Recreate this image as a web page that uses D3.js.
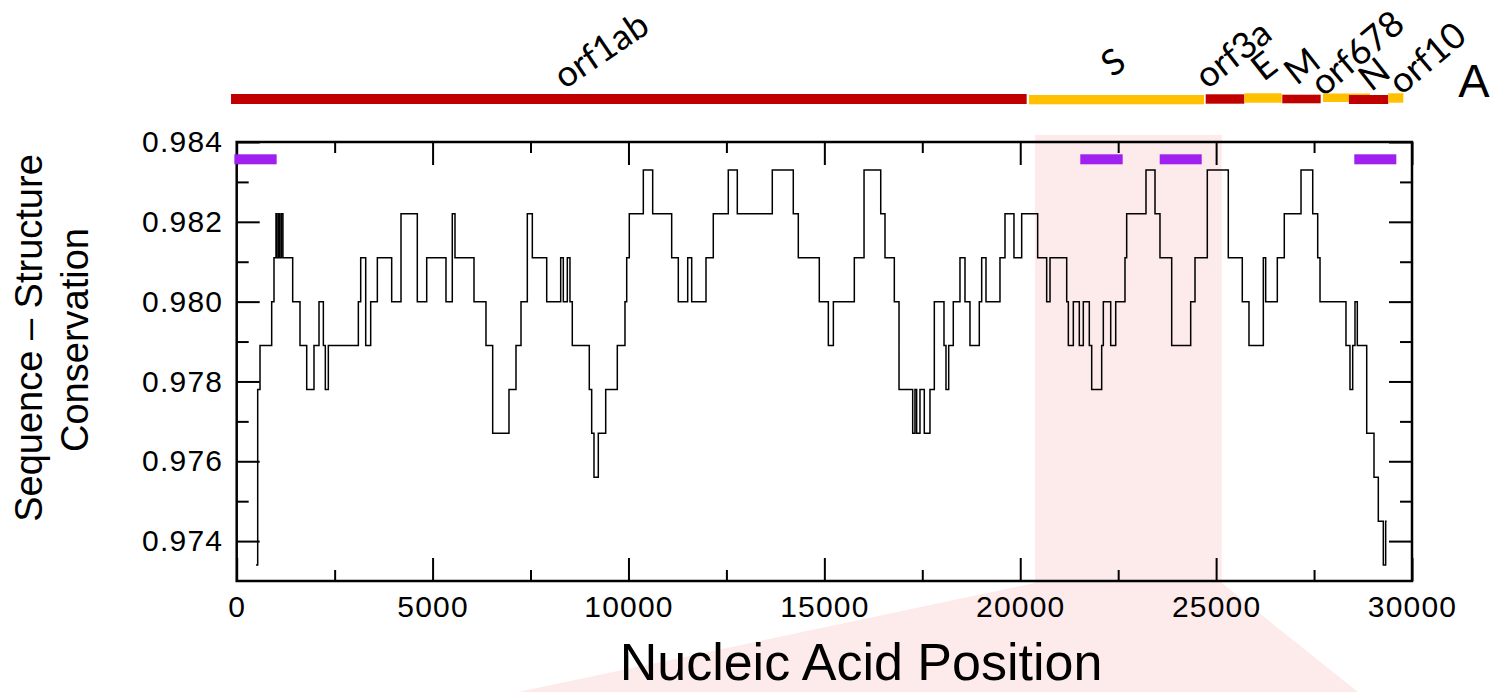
<!DOCTYPE html>
<html><head><meta charset="utf-8">
<script src="https://cdn.jsdelivr.net/npm/d3@7"></script>
<style>body{margin:0;background:#fff}svg{display:block}</style>
</head><body>
<svg id="c" width="1509" height="692"></svg>
<script>
// ---------- data ----------
const stepPositions = [493,536,595,893,952,1003,1030,1072,1098,1140,1180,1429,1616,1787,1973,2101,2212,2262,2339,3105,3165,3293,3420,3590,3956,4194,4610,4850,5342,5503,5572,6057,6363,6534,6950,7129,7257,7418,7546,7913,8270,8337,8439,8507,8566,9000,9061,9120,9230,9419,9715,9911,9955,10021,10379,10618,11103,11272,11512,11614,11979,12165,12548,12778,13671,14207,14335,14871,15102,15230,15765,16013,16439,16548,16786,16906,17255,17313,17356,17441,17551,17696,17807,18054,18105,18174,18291,18462,18590,18717,18955,19016,19126,19483,19611,19840,20037,20445,20675,20760,21186,21228,21355,21508,21610,21763,21824,22079,22121,22309,22437,22674,22717,23210,23440,23567,23866,24351,24461,24775,25311,25668,25839,26205,26265,26562,26740,27167,27466,27593,27652,28315,28417,28486,28545,28604,28844,29030,29140,29268,29328,29353];
const stepValues = [0.9734,0.9778,0.9789,0.9800,0.9811,0.9822,0.9811,0.9822,0.9811,0.9822,0.9811,0.9800,0.9789,0.9778,0.9789,0.9800,0.9789,0.9778,0.9789,0.9800,0.9811,0.9789,0.9800,0.9811,0.9800,0.9822,0.9800,0.9811,0.9800,0.9822,0.9811,0.9800,0.9789,0.9767,0.9778,0.9789,0.9800,0.9822,0.9811,0.9800,0.9811,0.9800,0.9811,0.9800,0.9789,0.9778,0.9767,0.9756,0.9767,0.9778,0.9789,0.9800,0.9811,0.9822,0.9833,0.9822,0.9811,0.9800,0.9811,0.9800,0.9811,0.9822,0.9833,0.9822,0.9833,0.9822,0.9811,0.9800,0.9789,0.9800,0.9811,0.9833,0.9822,0.9811,0.9800,0.9778,0.9767,0.9778,0.9767,0.9778,0.9767,0.9778,0.9800,0.9789,0.9778,0.9789,0.9800,0.9811,0.9800,0.9789,0.9800,0.9811,0.9800,0.9811,0.9822,0.9811,0.9822,0.9811,0.9800,0.9811,0.9800,0.9789,0.9800,0.9789,0.9800,0.9789,0.9778,0.9789,0.9800,0.9789,0.9800,0.9811,0.9822,0.9833,0.9822,0.9811,0.9789,0.9800,0.9811,0.9833,0.9811,0.9800,0.9789,0.9811,0.9800,0.9811,0.9822,0.9833,0.9822,0.9811,0.9800,0.9789,0.9778,0.9789,0.9800,0.9789,0.9767,0.9756,0.9745,0.9734,0.9745,0.9745];

const geneNames  = ["orf1ab","S","orf3a","E","M","orf678","N","orf10"];
const geneStarts = [-145,20222,24734,25720,26689,27728,28390,29395];
const geneEnds   = [20164,24690,25720,26674,27669,28927,29395,29778];
const geneLabelAt = [9299,22368,25431,26222,27192,28596,29030,30383];

const regionStarts = [-60,21533,23560,28527];
const regionEnds   = [1020,22615,24632,29600];

const zoomWindow = [20377,25142];

const xMajorTicks = [0,5000,10000,15000,20000,25000,30000];
const xMinorTicks = [2500,7500,12500,17500,22500,27500];
const yMajorTicks = [0.974,0.976,0.978,0.980,0.982,0.984];
const yMinorTicks = [0.975,0.977,0.979,0.981,0.983];

// ---------- layout ----------
const svg = d3.select("#c");
const L = 236.7, R = 1412, T = 142, B = 581;
const x = d3.scaleLinear().domain([0,30000]).range([L,R]);
const y = d3.scaleLinear().domain([0.973,0.984]).range([B,T]);
const FONT = "'Liberation Sans', Arial, Helvetica, sans-serif";
const geneColors = ["#c00000","#ffc000","#c00000","#ffc000","#c00000","#ffc000","#c00000","#ffc000"];
const geneY = [94,95,94.3,93.3,94.7,93.5,95,93.3];
const geneH = [10,9.3,9.4,9.4,8.6,8.5,9,9.4];
const labelY = [50,62,54,66,66,53,74,58];
const labelRot = [-34,-35,-38,-38,-38,-40,-38,-40];

// zoom highlight (pink)
const zx0 = x(zoomWindow[0]), zx1 = x(zoomWindow[1]);
svg.append("path")
  .attr("d", `M${zx0},135 L${zx1},135 L${zx1},583 L1358,692 L518,692 L${zx0},583 Z`)
  .attr("fill","#fdeaea");

// data step line
const pts = stepPositions.map((p,i)=>[p,stepValues[i]]);
svg.append("path")
  .datum(pts)
  .attr("d", d3.line().x(d=>x(d[0])).y(d=>y(d[1])).curve(d3.curveStepAfter))
  .attr("fill","none").attr("stroke","#000").attr("stroke-width",1.5);

// axes
function styleAxis(g){
  g.select(".domain").remove();
  g.selectAll(".tick line").attr("stroke","#000").attr("stroke-width",2);
  g.selectAll(".tick text").attr("font-family",FONT).attr("font-size",30)
    .attr("letter-spacing","1.2px").attr("fill","#000");
}
svg.append("g").attr("transform",`translate(${L},0)`)
  .call(d3.axisLeft(y).tickValues(yMajorTicks).tickSize(-23).tickPadding(13.5).tickFormat(d3.format(".3f")))
  .call(styleAxis);
svg.append("g").attr("transform",`translate(${L},0)`)
  .call(d3.axisLeft(y).tickValues(yMinorTicks).tickSize(-12).tickFormat(""))
  .call(styleAxis);
svg.append("g").attr("transform",`translate(${R},0)`)
  .call(d3.axisRight(y).tickValues(yMajorTicks).tickSize(-23).tickFormat(""))
  .call(styleAxis);
svg.append("g").attr("transform",`translate(${R},0)`)
  .call(d3.axisRight(y).tickValues(yMinorTicks).tickSize(-12).tickFormat(""))
  .call(styleAxis);
svg.append("g").attr("transform",`translate(0,${B})`)
  .call(d3.axisBottom(x).tickValues(xMajorTicks).tickSize(-23).tickPadding(15).tickFormat(d3.format("d")))
  .call(styleAxis);
svg.append("g").attr("transform",`translate(0,${B})`)
  .call(d3.axisBottom(x).tickValues(xMinorTicks).tickSize(-11).tickFormat(""))
  .call(styleAxis);
svg.append("g").attr("transform",`translate(0,${T})`)
  .call(d3.axisTop(x).tickValues(xMajorTicks).tickSize(-23).tickFormat(""))
  .call(styleAxis);
svg.append("g").attr("transform",`translate(0,${T})`)
  .call(d3.axisTop(x).tickValues(xMinorTicks).tickSize(-11).tickFormat(""))
  .call(styleAxis);
svg.append("rect").attr("x",L).attr("y",T).attr("width",R-L).attr("height",B-T)
  .attr("fill","none").attr("stroke","#000").attr("stroke-width",2.5);

// purple regions
svg.selectAll("rect.reg").data(regionStarts).enter().append("rect")
  .attr("x",(d)=>x(d)).attr("width",(d,i)=>x(regionEnds[i])-x(d))
  .attr("y",154.3).attr("height",10).attr("fill","#a020f0");

// gene bars
svg.selectAll("rect.gene").data(geneNames).enter().append("rect")
  .attr("x",(d,i)=>x(geneStarts[i])).attr("width",(d,i)=>x(geneEnds[i])-x(geneStarts[i]))
  .attr("y",(d,i)=>geneY[i]).attr("height",(d,i)=>geneH[i])
  .attr("fill",(d,i)=>geneColors[i]);

// gene labels
svg.selectAll("text.gl").data(geneNames).enter().append("text")
  .attr("transform",(d,i)=>`translate(${x(geneLabelAt[i])},${labelY[i]}) rotate(${labelRot[i]})`)
  .attr("text-anchor","middle").attr("dy","0.35em")
  .attr("font-family","Lato, 'Open Sans', sans-serif").attr("font-size",36).attr("fill","#000")
  .text(d=>d);

// panel letter
svg.append("text").attr("x",1474).attr("y",97).attr("text-anchor","middle")
  .attr("font-family",FONT).attr("font-size",47).text("A");

// axis titles
svg.append("text").attr("transform","translate(42,338) rotate(-90)").attr("text-anchor","middle")
  .attr("font-family",FONT).attr("font-size",38).text("Sequence \u2013 Structure");
svg.append("text").attr("transform","translate(88,340) rotate(-90)").attr("text-anchor","middle")
  .attr("font-family",FONT).attr("font-size",38).text("Conservation");
svg.append("text").attr("x",861).attr("y",680).attr("text-anchor","middle")
  .attr("font-family",FONT).attr("font-size",52).text("Nucleic Acid Position");
</script>
</body></html>
